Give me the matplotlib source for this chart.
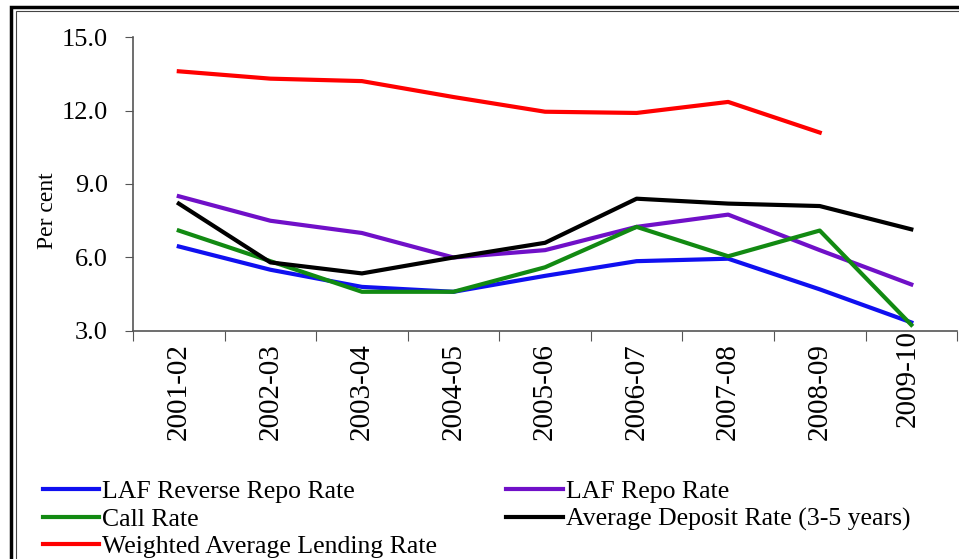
import numpy as np
import matplotlib
matplotlib.use('Agg')
import matplotlib.pyplot as plt
from matplotlib.patches import Rectangle
from matplotlib.transforms import ScaledTranslation

plt.rcParams['font.family'] = ['Liberation Serif', 'DejaVu Serif']

years = ['2001-02', '2002-03', '2003-04', '2004-05', '2005-06',
		 '2006-07', '2007-08', '2008-09', '2009-10']

reverse_repo = [6.45, 5.5, 4.8, 4.6, 5.25, 5.85, 5.95, 4.7, 3.35]
repo = [8.5, 7.5, 7.0, 6.0, 6.3, 7.25, 7.75, 6.3, 4.9]
call_rate = [7.1, 5.85, 4.6, 4.6, 5.6, 7.25, 6.05, 7.1, 3.25]
deposit = [8.2, 5.8, 5.35, 6.0, 6.6, 8.4, 8.2, 8.1, 7.15]
lending = [13.6, 13.3, 13.2, 12.55, 11.95, 11.9, 12.35, 11.1, np.nan]

fig = plt.figure(figsize=(9.59, 5.59), dpi=100)
ax = fig.add_axes([0.1387, 0.4079, 0.8593, 0.5259])

x = np.arange(len(years))
lw = 3
l_rev, = ax.plot(x, reverse_repo, color='#1010f0', lw=lw, label='LAF Reverse Repo Rate')
l_repo, = ax.plot(x, repo, color='#7010c8', lw=lw, label='LAF Repo Rate')
l_call, = ax.plot(x, call_rate, color='#128a12', lw=lw, label='Call Rate')
l_dep, = ax.plot(x, deposit, color='black', lw=lw, label='Average Deposit Rate (3-5 years)')
l_lend, = ax.plot(x, lending, color='#ff0000', lw=lw, label='Weighted Average Lending Rate')

ax.set_xlim(-0.5, len(years) - 0.5)
ax.set_ylim(3.0, 15.0)
ax.set_yticks([3, 6, 9, 12, 15])
ax.set_yticklabels(['%.1f' % v for v in [3, 6, 9, 12, 15]], fontsize=19)

# ticks sit between categories, labels at the centres
ax.set_xticks(np.arange(len(years) + 1) - 0.5)
ax.set_xticklabels([])
ax.set_xticks(x, minor=True)
ax.set_xticklabels(years, minor=True, rotation=90, fontsize=21)
ax.tick_params(axis='x', which='minor', length=0, pad=9)
ax.tick_params(axis='x', which='major', length=7, color='#555555', direction='out')
ax.tick_params(axis='y', length=6, color='#555555', pad=12)

# last label in the original sits a bit higher
last = ax.get_xticklabels(minor=True)[-1]
last.set_transform(last.get_transform() + ScaledTranslation(-0.04, 0.13, fig.dpi_scale_trans))

for s in ['top', 'right']:
	ax.spines[s].set_visible(False)
for s in ['left', 'bottom']:
	ax.spines[s].set_color('#555555')
	ax.spines[s].set_linewidth(1.2)

ax.set_ylabel('Per cent', fontsize=17)
ax.yaxis.set_label_coords(-0.091, 0.41)

handles = [l_rev, l_call, l_lend, l_repo, l_dep]
fig.legend(handles, [h.get_label() for h in handles], ncol=2,
		   loc='upper left', bbox_to_anchor=(0.0448, 0.141),
		   frameon=False, fontsize=18.5, handlelength=2.2,
		   handletextpad=0.1, labelspacing=0.18, columnspacing=2.7,
		   borderpad=0, borderaxespad=0)

# double frame round the figure
fig.patches.append(Rectangle((11 / 959, -0.1), 1.2, (559 - 7) / 559 + 0.1,
							 transform=fig.transFigure, fill=False,
							 edgecolor='black', lw=2.5))
fig.patches.append(Rectangle((15.5 / 959, -0.1), 1.2, (559 - 10.5) / 559 + 0.1,
							 transform=fig.transFigure, fill=False,
							 edgecolor='#444444', lw=0.8))

fig.savefig('out.png', dpi=100)
